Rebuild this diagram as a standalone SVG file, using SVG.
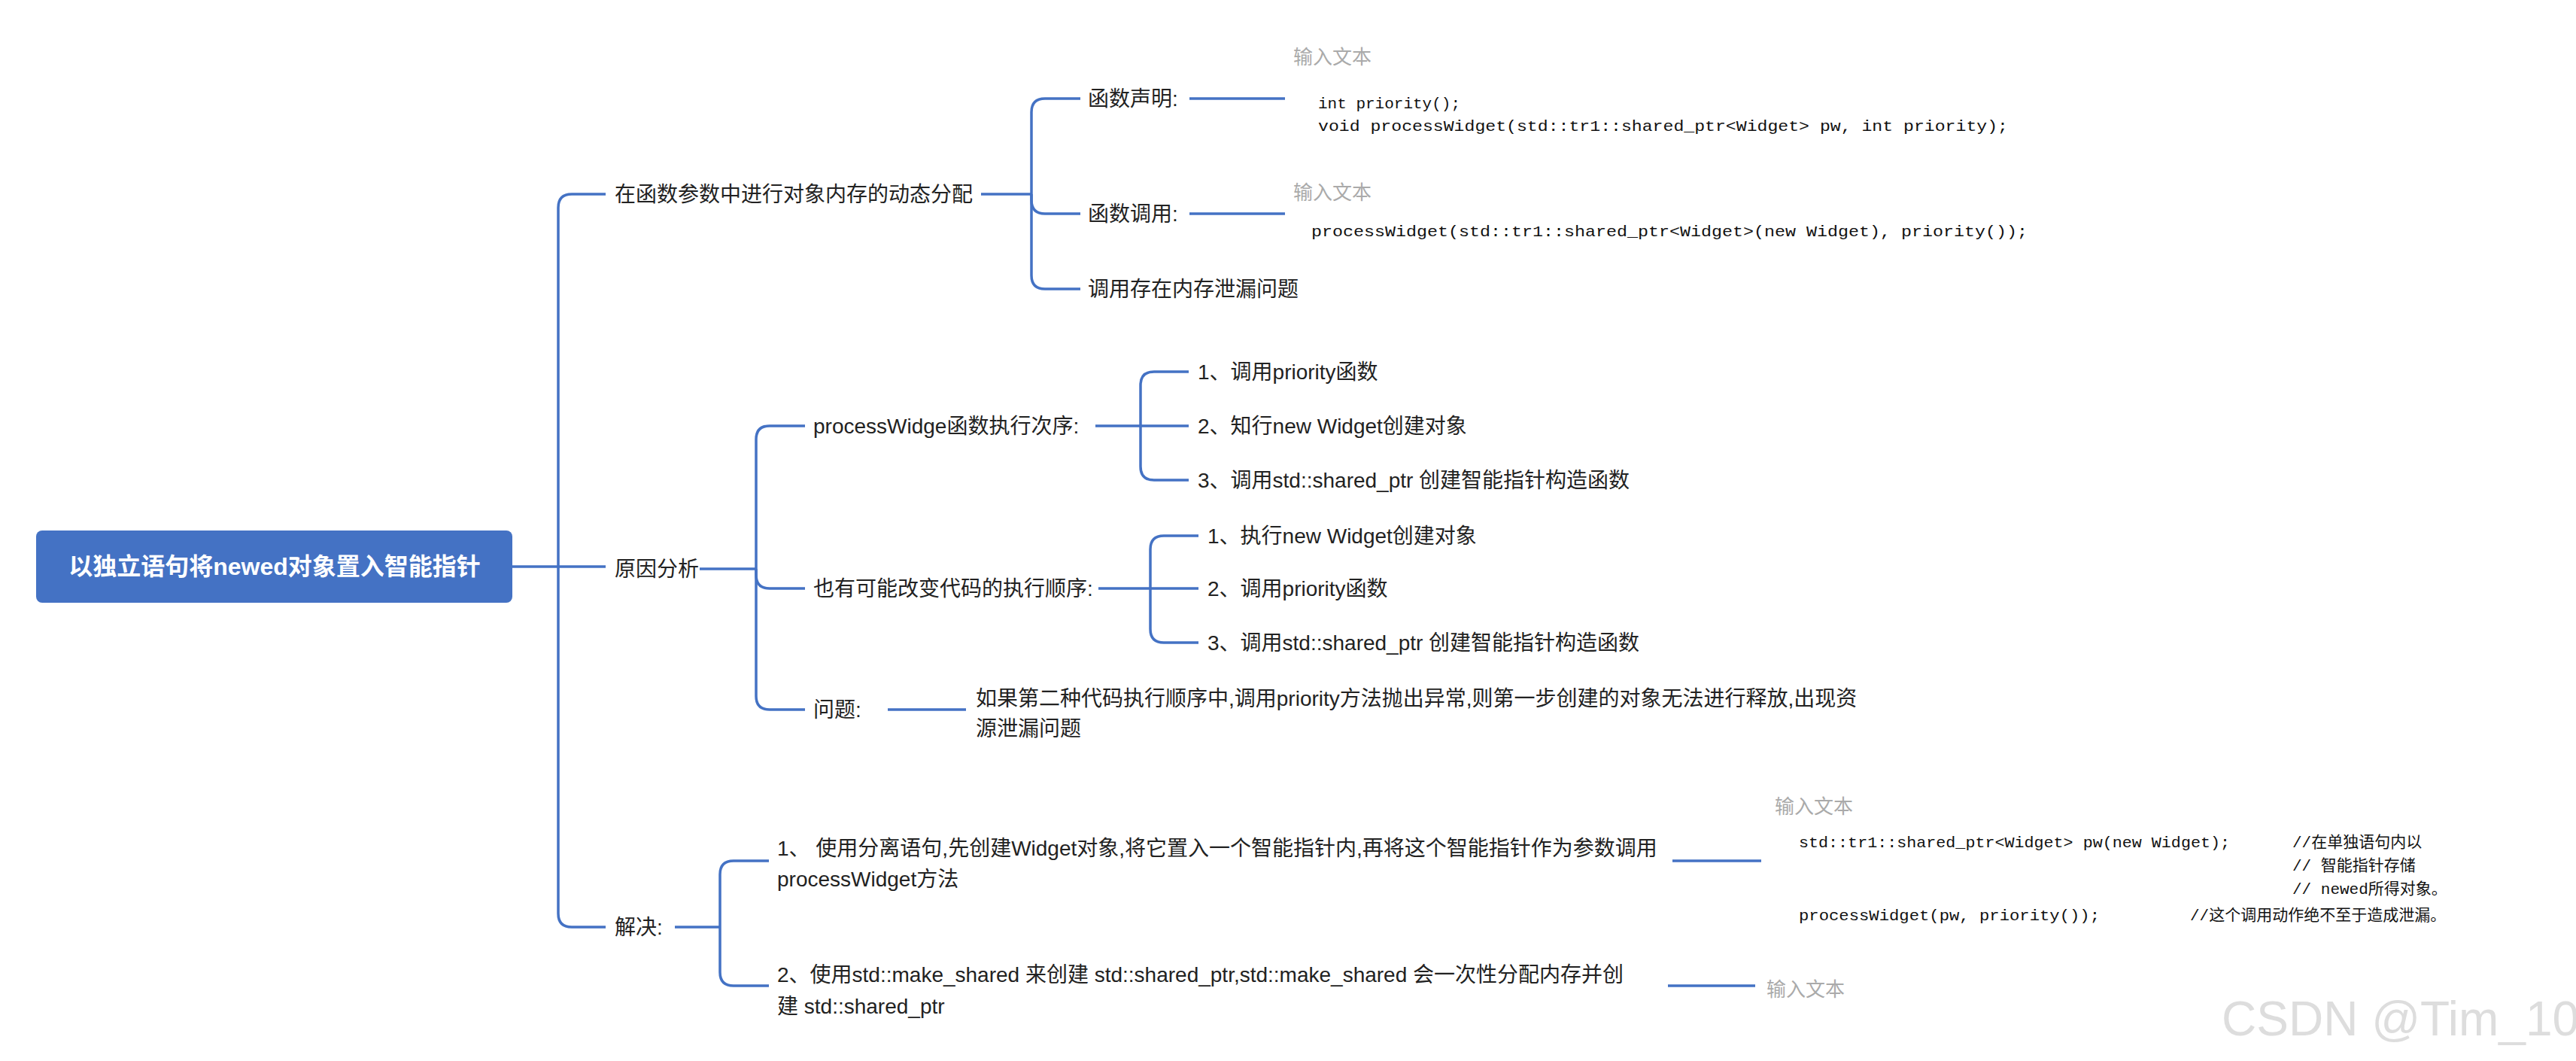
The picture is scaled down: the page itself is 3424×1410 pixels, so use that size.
<svg xmlns="http://www.w3.org/2000/svg" width="3424" height="1410" viewBox="0 0 3424 1410">
<style>
.t{font-family:"Liberation Sans","Noto Sans CJK SC",sans-serif;font-size:28px;fill:#222;dominant-baseline:central}
.g{font-family:"Liberation Sans","Noto Sans CJK SC",sans-serif;font-size:26px;fill:#aaa;dominant-baseline:central}
.c{font-family:"Liberation Mono","Noto Sans CJK SC",monospace;font-size:21px;fill:#111;dominant-baseline:central}
.l{fill:none;stroke:#4472C4;stroke-width:3.5}
</style>
<rect width="3424" height="1410" fill="#fff"/>
<g id="connectors">
<path class="l" d="M681 753 H742"/>
<path class="l" d="M742 753 V276 Q742 258 760 258 H805"/>
<path class="l" d="M742 753 H805"/>
<path class="l" d="M742 753 V1214 Q742 1232 760 1232 H805"/>
<path class="l" d="M1304 258 H1371"/>
<path class="l" d="M1371 258 V149 Q1371 131 1389 131 H1436"/>
<path class="l" d="M1371 258 V266 Q1371 284 1389 284 H1436"/>
<path class="l" d="M1371 258 V366 Q1371 384 1389 384 H1436"/>
<path class="l" d="M1581 131 H1708"/>
<path class="l" d="M1581 284 H1708"/>
<path class="l" d="M930 756 H1005"/>
<path class="l" d="M1005 756 V584 Q1005 566 1023 566 H1070"/>
<path class="l" d="M1005 756 V764 Q1005 782 1023 782 H1070"/>
<path class="l" d="M1005 756 V925 Q1005 943 1023 943 H1070"/>
<path class="l" d="M1456 566 H1516"/>
<path class="l" d="M1516 566 V512 Q1516 494 1534 494 H1580"/>
<path class="l" d="M1516 566 H1580"/>
<path class="l" d="M1516 566 V620 Q1516 638 1534 638 H1580"/>
<path class="l" d="M1460 782 H1529"/>
<path class="l" d="M1529 782 V730 Q1529 712 1547 712 H1593"/>
<path class="l" d="M1529 782 H1593"/>
<path class="l" d="M1529 782 V836 Q1529 854 1547 854 H1593"/>
<path class="l" d="M1180 943 H1284"/>
<path class="l" d="M897 1232 H957"/>
<path class="l" d="M957 1232 V1162 Q957 1144 975 1144 H1022"/>
<path class="l" d="M957 1232 V1292 Q957 1310 975 1310 H1022"/>
<path class="l" d="M2223 1144 H2341"/>
<path class="l" d="M2217 1310 H2333"/>
</g>
<g id="root"><rect x="48" y="705" width="633" height="96" rx="8" fill="#4472C4"/>
<text x="365" y="753" text-anchor="middle" style="font-family:'Liberation Sans','Noto Sans CJK SC',sans-serif;font-size:32px;font-weight:bold;fill:#fff;dominant-baseline:central">以独立语句将newed对象置入智能指针</text></g>
<g id="n1"><text class="t" x="817" y="258">在函数参数中进行对象内存的动态分配</text></g>
<g id="n1a"><text class="t" x="1446" y="131">函数声明:</text></g>
<g id="n1a1"><text class="g" x="1719" y="76">输入文本</text>
<text class="c" x="1752" y="138">int priority();</text>
<text class="c" x="1752" y="168" textLength="917" lengthAdjust="spacingAndGlyphs">void processWidget(std::tr1::shared_ptr&lt;Widget&gt; pw, int priority);</text></g>
<g id="n1b"><text class="t" x="1446" y="284">函数调用:</text></g>
<g id="n1b1"><text class="g" x="1719" y="256">输入文本</text>
<text class="c" x="1743" y="308" textLength="952" lengthAdjust="spacingAndGlyphs">processWidget(std::tr1::shared_ptr&lt;Widget&gt;(new Widget), priority());</text></g>
<g id="n1c"><text class="t" x="1446" y="384">调用存在内存泄漏问题</text></g>
<g id="n2"><text class="t" x="817" y="756">原因分析</text></g>
<g id="n2a"><text class="t" x="1081" y="566">processWidge函数执行次序:</text></g>
<g id="n2a1"><text class="t" x="1592" y="494">1、调用priority函数</text></g>
<g id="n2a2"><text class="t" x="1592" y="566">2、知行new Widget创建对象</text></g>
<g id="n2a3"><text class="t" x="1592" y="638">3、调用std::shared_ptr 创建智能指针构造函数</text></g>
<g id="n2b"><text class="t" x="1081" y="782">也有可能改变代码的执行顺序:</text></g>
<g id="n2b1"><text class="t" x="1605" y="712">1、执行new Widget创建对象</text></g>
<g id="n2b2"><text class="t" x="1605" y="782">2、调用priority函数</text></g>
<g id="n2b3"><text class="t" x="1605" y="854">3、调用std::shared_ptr 创建智能指针构造函数</text></g>
<g id="n2c"><text class="t" x="1081" y="943">问题:</text></g>
<g id="n2c1"><text class="t" x="1297" y="928">如果第二种代码执行顺序中,调用priority方法抛出异常,则第一步创建的对象无法进行释放,出现资</text>
<text class="t" x="1297" y="968">源泄漏问题</text></g>
<g id="n3"><text class="t" x="817" y="1232">解决:</text></g>
<g id="n3a"><text class="t" x="1033" y="1127">1、 使用分离语句,先创建Widget对象,将它置入一个智能指针内,再将这个智能指针作为参数调用</text>
<text class="t" x="1033" y="1168">processWidget方法</text></g>
<g id="n3a1"><text class="g" x="2359" y="1072">输入文本</text>
<text class="c" x="2391" y="1120" textLength="573" lengthAdjust="spacingAndGlyphs">std::tr1::shared_ptr&lt;Widget&gt; pw(new Widget);</text>
<text class="c" x="3047" y="1120">//在单独语句内以</text>
<text class="c" x="3047" y="1151">//  智能指针存储</text>
<text class="c" x="3047" y="1182">//  newed所得对象。</text>
<text class="c" x="2391" y="1217" textLength="400" lengthAdjust="spacingAndGlyphs">processWidget(pw, priority());</text>
<text class="c" x="2911" y="1217">//这个调用动作绝不至于造成泄漏。</text></g>
<g id="n3b"><text class="t" x="1033" y="1295">2、使用std::make_shared 来创建 std::shared_ptr,std::make_shared 会一次性分配内存并创</text>
<text class="t" x="1033" y="1337">建 std::shared_ptr</text></g>
<g id="n3b1"><text class="g" x="2348" y="1315">输入文本</text></g>
<text x="2953" y="1354" style="font-family:'Liberation Sans',sans-serif;font-size:64px;fill:#ddd;dominant-baseline:central">CSDN @Tim_10</text>
</svg>
